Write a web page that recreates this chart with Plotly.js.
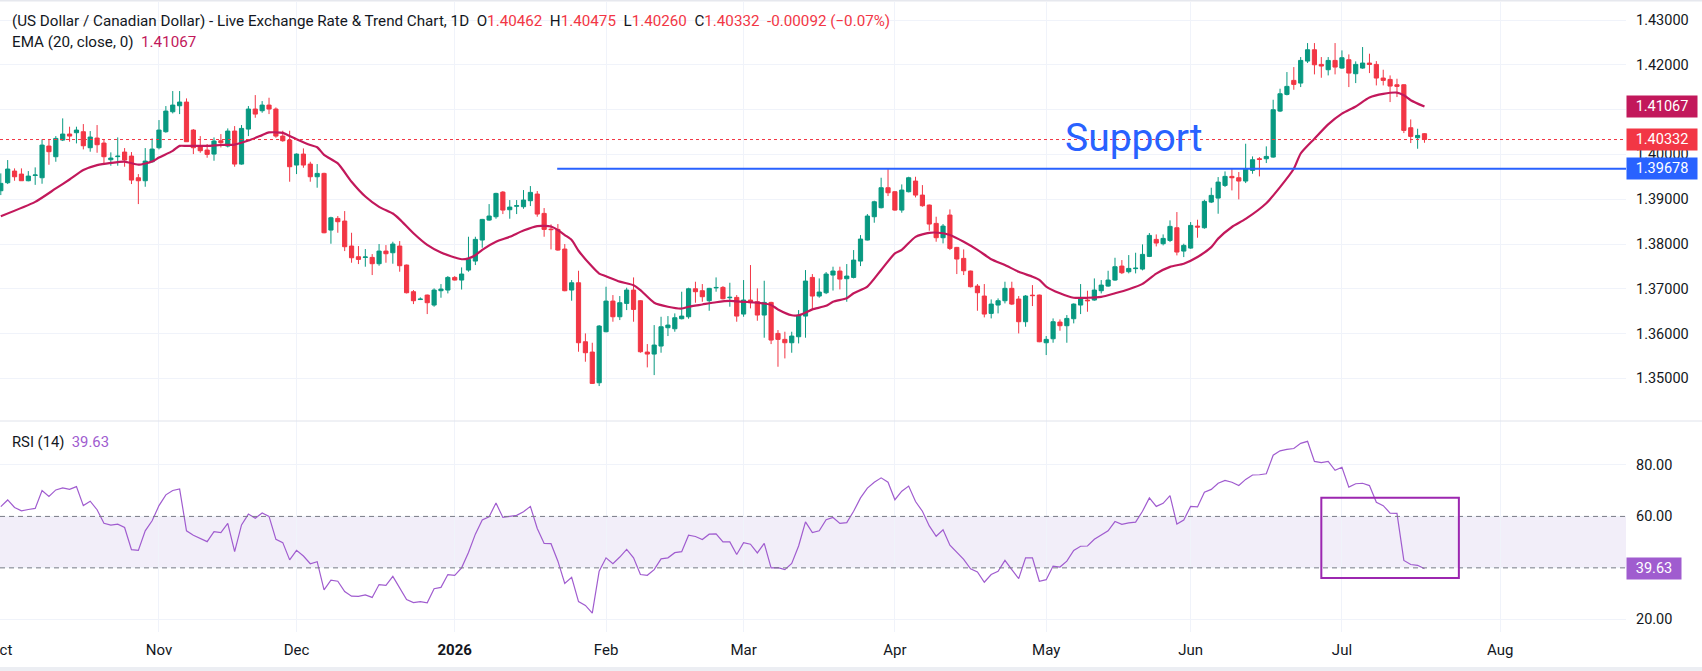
<!DOCTYPE html>
<html>
<head>
<meta charset="utf-8">
<script src="https://cdn.plot.ly/plotly-3.0.1.min.js"></script>
<style>
html,body{margin:0;padding:0;background:#ffffff;}
#chart{width:1702px;height:671px;}
</style>
</head>
<body>
<div id="chart"></div>
<script>
// ---- Data ----
const monthTickIdx = [0, 23, 43, 66, 88, 108, 130, 152, 173, 195, 218];
const monthTickText = ['Oct', 'Nov', 'Dec', '<b>2026</b>', 'Feb', 'Mar', 'Apr', 'May', 'Jun', 'Jul', 'Aug'];

const open = [
1.39189,1.39368,1.39628,1.39561,1.39412,1.39530,1.39479,1.40186,1.39948,1.40320,
1.40454,1.40484,1.40506,1.40149,1.40365,1.40253,1.39881,1.39950,1.40052,1.39963,
1.39479,1.39412,1.39836,1.40149,1.40506,1.40952,1.41086,1.41168,1.40543,1.40171,
1.40097,1.40007,1.40305,1.40186,1.40521,1.39784,1.40565,1.41012,1.40975,1.41101,
1.41012,1.40409,1.40320,1.39762,1.40007,1.39784,1.39501,1.39576,1.38311,1.38571,
1.38512,1.37954,1.37716,1.37700,1.37701,1.37560,1.37842,1.37805,1.37954,1.37530,
1.36935,1.36760,1.36860,1.36637,1.36957,1.36972,1.37254,1.37195,1.37418,1.37619,
1.38088,1.38534,1.38609,1.39159,1.38765,1.38844,1.38832,1.38966,1.39115,1.38683,
1.38331,1.38326,1.37887,1.36972,1.37135,1.35818,1.35588,1.34903,1.36042,1.36726,
1.36376,1.36674,1.36972,1.36734,1.35588,1.35543,1.35722,1.36131,1.36108,1.36332,
1.36376,1.37001,1.36957,1.36734,1.37020,1.37031,1.36800,1.36808,1.36436,1.36749,
1.36711,1.36414,1.36696,1.36004,1.35871,1.35796,1.35930,1.36391,1.37254,1.36838,
1.36912,1.37307,1.37396,1.37225,1.37254,1.37619,1.38088,1.38609,1.38810,1.39256,
1.39167,1.38757,1.39167,1.39405,1.39092,1.38869,1.38460,1.38140,1.38646,1.37924,
1.37679,1.37396,1.37061,1.36838,1.36451,1.36637,1.36734,1.37010,1.36771,1.36265,
1.36858,1.36860,1.35796,1.35885,1.36257,1.36176,1.36332,1.36637,1.36749,1.36749,
1.36957,1.37061,1.37195,1.37507,1.37381,1.37450,1.37440,1.37723,1.38103,1.38006,
1.38080,1.38363,1.37842,1.37909,1.38400,1.38363,1.38936,1.39025,1.39308,1.39509,
1.39479,1.39405,1.39643,1.39903,1.39903,1.39940,1.40967,1.41339,1.41652,1.41592,
1.42083,1.42336,1.42009,1.41890,1.42098,1.41927,1.42113,1.41801,1.41927,1.42039,
1.42009,1.41704,1.41674,1.41555,1.41555,1.40595,1.40372,1.40462];

const high = [
1.39576,1.39874,1.39688,1.39688,1.39628,1.39710,1.40335,1.40335,1.40409,1.40804,
1.40618,1.40618,1.40677,1.40521,1.40655,1.40320,1.40045,1.40379,1.40141,1.40052,
1.39561,1.40141,1.40357,1.40766,1.41079,1.41414,1.41414,1.41250,1.40565,1.40409,
1.40231,1.40379,1.40454,1.40580,1.40632,1.40655,1.41079,1.41324,1.41190,1.41265,
1.41049,1.40528,1.40528,1.40022,1.40134,1.39836,1.39784,1.39591,1.38609,1.38624,
1.38735,1.38251,1.37954,1.37887,1.37775,1.37999,1.37976,1.38051,1.38065,1.37540,
1.36972,1.36808,1.36870,1.37010,1.37106,1.37284,1.37284,1.37478,1.38162,1.38162,
1.38560,1.38891,1.39144,1.39182,1.38981,1.38981,1.39204,1.39293,1.39182,1.38802,
1.38437,1.38445,1.37999,1.37195,1.37403,1.36004,1.35796,1.36190,1.37046,1.36860,
1.36838,1.37024,1.37254,1.36749,1.35766,1.36190,1.36376,1.36391,1.36451,1.36935,
1.37024,1.37158,1.37106,1.37020,1.37254,1.37061,1.37135,1.36860,1.37195,1.37530,
1.37010,1.37180,1.36710,1.36079,1.36042,1.36042,1.36525,1.37418,1.37329,1.37232,
1.37374,1.37493,1.37493,1.37552,1.37865,1.38199,1.38668,1.38966,1.39479,1.39688,
1.39182,1.39330,1.39501,1.39501,1.39315,1.38880,1.38609,1.38445,1.38772,1.37935,
1.37879,1.37405,1.37106,1.37106,1.36763,1.36786,1.37158,1.37158,1.36838,1.36860,
1.37083,1.36870,1.35945,1.36339,1.36317,1.36414,1.36674,1.37106,1.36957,1.37232,
1.37195,1.37403,1.37693,1.37641,1.37753,1.37805,1.37991,1.38244,1.38214,1.38214,
1.38527,1.38713,1.38006,1.38490,1.38542,1.38988,1.39256,1.39494,1.39620,1.39680,
1.39606,1.40238,1.39955,1.39940,1.40179,1.41220,1.41466,1.41838,1.41949,1.42173,
1.42485,1.42485,1.42173,1.42173,1.42485,1.42321,1.42232,1.42076,1.42396,1.42247,
1.42083,1.41890,1.41763,1.41689,1.41565,1.40781,1.40573,1.40475];

const low = [
1.39092,1.39338,1.39412,1.39412,1.39400,1.39320,1.39345,1.39769,1.39836,1.40298,
1.40283,1.40246,1.40112,1.40060,1.40037,1.39777,1.39747,1.39747,1.39725,1.39338,
1.38891,1.39278,1.39821,1.40112,1.40484,1.40915,1.40900,1.40283,1.40007,1.40037,
1.39926,1.39859,1.40156,1.40156,1.39725,1.39770,1.40409,1.40818,1.40930,1.40900,
1.40372,1.40283,1.39390,1.39561,1.39702,1.39390,1.39256,1.38240,1.38006,1.38251,
1.37842,1.37582,1.37552,1.37493,1.37307,1.37515,1.37582,1.37560,1.37381,1.36897,
1.36659,1.36749,1.36436,1.36600,1.36801,1.36897,1.37185,1.36984,1.37381,1.37530,
1.37917,1.38519,1.38564,1.38668,1.38564,1.38668,1.38787,1.38847,1.38609,1.38162,
1.37879,1.37850,1.36945,1.36734,1.35595,1.35372,1.34875,1.34829,1.36030,1.36265,
1.36302,1.36525,1.36265,1.35573,1.35246,1.35074,1.35573,1.35945,1.36042,1.36317,
1.36332,1.36689,1.36711,1.36510,1.36935,1.36763,1.36600,1.36265,1.36376,1.36563,
1.36287,1.35908,1.35766,1.35260,1.35446,1.35573,1.35781,1.35908,1.36540,1.36801,
1.36882,1.36961,1.36987,1.36711,1.37232,1.37507,1.38080,1.38475,1.38795,1.39070,
1.38743,1.38698,1.39152,1.39040,1.38832,1.38296,1.38051,1.38013,1.37865,1.37329,
1.37307,1.37031,1.36510,1.36362,1.36339,1.36451,1.36674,1.36637,1.36004,1.36153,
1.36615,1.35808,1.35521,1.35796,1.36064,1.35796,1.36228,1.36436,1.36488,1.36734,
1.36897,1.37046,1.37180,1.37329,1.37344,1.37344,1.37411,1.37708,1.37946,1.37969,
1.38043,1.37746,1.37708,1.37894,1.38140,1.38341,1.38914,1.38676,1.39271,1.39196,
1.38996,1.39360,1.39568,1.39509,1.39807,1.39926,1.40945,1.41317,1.41443,1.41503,
1.42039,1.41786,1.41711,1.41763,1.41786,1.41912,1.41503,1.41592,1.41912,1.41815,
1.41540,1.41540,1.41168,1.41280,1.40476,1.40253,1.40126,1.40260];

const close = [
1.39353,1.39673,1.39501,1.39412,1.39516,1.39540,1.40208,1.40060,1.40357,1.40454,
1.40409,1.40543,1.40193,1.40387,1.40216,1.39948,1.39918,1.39960,1.39874,1.39427,
1.39412,1.39851,1.40119,1.40543,1.40967,1.41101,1.41168,1.40283,1.40149,1.40082,
1.40000,1.40298,1.40260,1.40521,1.39784,1.40580,1.41012,1.40900,1.41101,1.41012,
1.40409,1.40305,1.39725,1.40007,1.39762,1.39501,1.39576,1.38251,1.38586,1.38497,
1.37939,1.37693,1.37656,1.37710,1.37560,1.37842,1.37783,1.37999,1.37515,1.36912,
1.36734,1.36770,1.36689,1.36972,1.36994,1.37254,1.37195,1.37329,1.37656,1.38103,
1.38549,1.38624,1.39129,1.38757,1.38824,1.38854,1.38981,1.39152,1.38668,1.38326,
1.38321,1.37865,1.36957,1.37135,1.35796,1.35573,1.34888,1.36168,1.36726,1.36376,
1.36689,1.36972,1.36540,1.35595,1.35543,1.35744,1.36153,1.36190,1.36354,1.36391,
1.37001,1.36935,1.36823,1.37010,1.37030,1.36778,1.36810,1.36391,1.36749,1.36689,
1.36414,1.36696,1.35856,1.35871,1.35796,1.35945,1.36414,1.37173,1.36838,1.36927,
1.37329,1.37396,1.37217,1.37284,1.37641,1.38110,1.38624,1.38943,1.39256,1.39144,
1.38757,1.39204,1.39479,1.39092,1.38854,1.38445,1.38140,1.38400,1.37902,1.37664,
1.37403,1.37046,1.36912,1.36436,1.36659,1.36734,1.37010,1.36659,1.36265,1.36838,
1.36848,1.35818,1.35871,1.36265,1.36176,1.36339,1.36659,1.36786,1.36734,1.36972,
1.37083,1.37195,1.37493,1.37359,1.37455,1.37460,1.37768,1.38192,1.38021,1.38125,
1.38393,1.37820,1.37969,1.38415,1.38378,1.38951,1.39085,1.39382,1.39509,1.39479,
1.39405,1.39680,1.39881,1.39888,1.39955,1.40997,1.41354,1.41518,1.41563,1.42098,
1.42336,1.42001,1.41972,1.42098,1.41949,1.42158,1.41815,1.42009,1.42039,1.42009,
1.41704,1.41652,1.41525,1.41518,1.40536,1.40402,1.40424,1.40332];

// EMA(20) read at sampled bars
const emaIdx = [0,5,8,10,12,14,16,18,20,22,23,25,26,27,30,32,34,36,38,39,41,42,43,45,46,47,49,51,53,55,57,58,60,62,64,66,67,68,69,70,72,74,76,78,80,81,82,83,84,86,87,88,90,92,93,95,97,99,100,102,104,106,108,110,112,113,115,116,117,118,120,121,123,124,126,128,130,131,133,135,137,138,140,142,144,146,148,150,151,152,154,156,158,160,162,164,166,168,170,172,174,176,177,179,181,184,186,188,189,191,193,195,197,199,201,203,204,205,207];
const emaVal = [1.3862,1.3894,1.3924,1.3944,1.3965,1.3976,1.3981,1.3984,1.3977,1.3984,1.3993,1.4008,1.4019,1.4019,1.4019,1.4021,1.4022,1.4031,1.4043,1.4049,1.4048,1.4041,1.4034,1.4021,1.4016,1.3999,1.3980,1.3939,1.3906,1.3883,1.3868,1.3855,1.3824,1.3798,1.3781,1.3770,1.3766,1.3768,1.3775,1.3787,1.3805,1.3816,1.3830,1.3840,1.3839,1.3831,1.3820,1.3809,1.3785,1.3749,1.3734,1.3728,1.3716,1.3708,1.3697,1.3669,1.3660,1.3656,1.3660,1.3665,1.3670,1.3673,1.3671,1.3669,1.3664,1.3654,1.3641,1.3641,1.3647,1.3654,1.3662,1.3671,1.3679,1.3690,1.3705,1.3742,1.3779,1.3787,1.3816,1.3825,1.3824,1.3820,1.3805,1.3787,1.3766,1.3753,1.3738,1.3727,1.3720,1.3705,1.3690,1.3680,1.3680,1.3682,1.3690,1.3699,1.3711,1.3734,1.3749,1.3756,1.3771,1.3793,1.3812,1.3838,1.3856,1.3891,1.3927,1.3968,1.4002,1.4035,1.4067,1.4091,1.4107,1.4127,1.4135,1.4138,1.4132,1.4121,1.41067];

// RSI(14) per bar
const rsi = [
63.8,66.4,63.5,62.2,62.7,63.1,70.1,67.8,70.3,71.1,
70.5,71.6,64.2,65.9,62.6,57.3,56.6,57.0,55.7,47.1,
46.8,54.4,58.3,64.2,68.4,70.1,70.7,54.4,52.7,51.4,
50.2,54.1,53.7,57.3,46.3,56.7,60.9,59.3,61.3,60.0,
51.1,49.8,43.1,46.8,44.6,41.6,42.4,31.4,35.2,34.8,
30.8,29.0,28.9,29.5,28.5,33.5,33.2,36.7,32.4,27.7,
26.5,26.9,26.4,31.9,32.4,37.4,37.1,40.0,46.0,53.1,
58.6,59.9,65.2,59.6,60.0,60.4,61.8,63.9,55.3,49.5,
49.4,42.6,33.9,36.3,26.9,25.4,22.4,38.7,43.9,41.6,
44.2,47.2,43.9,37.4,37.1,39.3,43.5,43.9,45.9,46.3,
52.7,52.2,51.0,53.1,53.2,50.1,50.1,45.2,49.8,49.2,
45.8,49.5,40.0,40.1,39.3,41.7,48.5,57.9,53.7,54.4,
58.7,59.6,57.3,57.6,62.0,67.2,71.0,73.3,75.0,73.3,
66.5,69.8,71.8,65.8,62.0,56.3,52.3,54.8,48.8,45.9,
43.3,39.6,38.4,34.4,37.4,38.7,42.9,39.3,35.8,43.9,
43.9,34.8,35.4,40.7,40.3,42.6,46.8,48.4,48.5,51.1,
52.7,54.4,58.0,56.9,57.5,57.8,62.0,67.2,63.9,65.1,
68.1,57.0,58.6,63.9,63.7,69.4,70.5,72.9,74.0,73.3,
72.0,74.4,76.1,76.2,76.6,83.8,85.5,86.1,86.4,88.4,
89.2,81.4,80.9,81.4,77.9,79.1,71.4,72.7,72.9,72.0,
65.5,64.2,61.3,61.2,42.9,41.3,41.0,39.63];

const priceTicks = [1.35, 1.36, 1.37, 1.38, 1.39, 1.40, 1.41, 1.42, 1.43];
// 1.41000 sits fully behind the EMA price box in the reference, so its label is left blank
const priceTickText = ['1.35000', '1.36000', '1.37000', '1.38000', '1.39000', '1.40000', '', '1.42000', '1.43000'];
const rsiTicks = [20, 40, 60, 80];
const rsiTickText = ['20.00', '40.00', '60.00', '80.00'];

const lastClose = 1.40332;
const lastEma = 1.41067;
const supportLevel = 1.39678;
const supportStartIdx = 80.9;
const lastRsi = 39.63;
const rsiBox = {x0: 192, x1: 212, y0: 36.1, y1: 67.25};

// ---- Styling ----
const GREEN = '#089981', RED = '#f23645', EMA_C = '#c2185b', BLUE = '#2962ff', RSI_C = '#a05ccf', TXT = '#131722', GRID = '#f0f3fa';
const FONT = 'Roboto, "Liberation Sans", Arial, sans-serif';

const idx = open.map((_, i) => i);
const xRange = [-0.116, 236.3];

// plot area: y pixels 2..632 (height 630), x 0..1626
const PH = 630, PB = 632;
const py = p => (PB - p) / PH; // pixel -> paper y
const PW = 1626;
const px = p => p / PW;       // pixel -> paper x

const traces = [
  {
    type: 'candlestick', x: idx, open: open, high: high, low: low, close: close,
    xaxis: 'x', yaxis: 'y',
    increasing: {line: {color: GREEN, width: 1}, fillcolor: GREEN},
    decreasing: {line: {color: RED, width: 1}, fillcolor: RED},
    whiskerwidth: 0, hoverinfo: 'skip', showlegend: false
  },
  {
    type: 'scatter', mode: 'lines', x: emaIdx, y: emaVal, xaxis: 'x', yaxis: 'y',
    line: {color: EMA_C, width: 2.2, shape: 'spline', smoothing: 0.6}, hoverinfo: 'skip', showlegend: false
  },
  {
    type: 'scatter', mode: 'lines', x: idx, y: rsi, xaxis: 'x', yaxis: 'y2',
    line: {color: RSI_C, width: 1.2}, hoverinfo: 'skip', showlegend: false
  }
];

const shapes = [
  // RSI band
  {type: 'rect', xref: 'paper', yref: 'y2', x0: 0, x1: 1, y0: 40, y1: 60, fillcolor: 'rgba(126,87,194,0.10)', line: {width: 0}, layer: 'below'},
  {type: 'line', xref: 'paper', yref: 'y2', x0: 0, x1: 1, y0: 60, y1: 60, line: {color: '#787b86', width: 1, dash: '5px,4px'}},
  {type: 'line', xref: 'paper', yref: 'y2', x0: 0, x1: 1, y0: 40, y1: 40, line: {color: '#787b86', width: 1, dash: '5px,4px'}},
  // current price dotted line
  {type: 'line', xref: 'paper', yref: 'y', x0: 0, x1: 1, y0: lastClose, y1: lastClose, line: {color: RED, width: 1, dash: 'dot'}},
  // support line
  {type: 'line', xref: 'x', yref: 'y', x0: supportStartIdx, x1: xRange[1], y0: supportLevel, y1: supportLevel, line: {color: BLUE, width: 2}},
  // RSI highlight box
  {type: 'rect', xref: 'x', yref: 'y2', x0: rsiBox.x0, x1: rsiBox.x1, y0: rsiBox.y0, y1: rsiBox.y1, line: {color: '#9c27b0', width: 2}, fillcolor: 'rgba(0,0,0,0)'},
  // pane separator
  {type: 'line', xref: 'paper', yref: 'paper', x0: 0, x1: px(1702), y0: py(421), y1: py(421), line: {color: '#e0e3eb', width: 1}},
  // outer frame strips
  {type: 'rect', xref: 'paper', yref: 'paper', x0: 0, x1: px(1702), y0: py(667), y1: py(672), fillcolor: '#eceef3', line: {width: 0}},
  {type: 'rect', xref: 'paper', yref: 'paper', x0: 0, x1: px(1702), y0: py(0), y1: py(1.5), fillcolor: '#e6e8ee', line: {width: 0}}
];

const sp = '\u00a0';
const red = s => '<span style="color:' + RED + '">' + s + '</span>';
const header1 = '(US Dollar / Canadian Dollar) - Live Exchange Rate &amp; Trend Chart, 1D' + sp + sp +
  'O' + red('1.40462') + sp + sp + 'H' + red('1.40475') + sp + sp + 'L' + red('1.40260') + sp + sp +
  'C' + red('1.40332') + sp + sp + red('-0.00092 (\u22120.07%)');
const header2 = 'EMA (20, close, 0)' + sp + sp + '<span style="color:' + EMA_C + '">' + lastEma.toFixed(5) + '</span>';
const rsiTitle = 'RSI (14)' + sp + sp + '<span style="color:' + RSI_C + '">' + lastRsi.toFixed(2) + '</span>';

function axisBox(val, yref, bg, w, txt) {
  return {xref: 'paper', yref: yref, x: 1, y: val, xanchor: 'left', yanchor: 'middle',
    text: txt, showarrow: false, bgcolor: bg, width: w, height: 21, borderpad: 0, align: 'center',
    font: {family: FONT, size: 14.5, color: '#ffffff'}};
}

const annotations = [
  {xref: 'paper', yref: 'paper', x: px(10), y: py(21), xanchor: 'left', yanchor: 'middle', showarrow: false,
   text: header1, font: {family: FONT, size: 15.2, color: TXT}},
  {xref: 'paper', yref: 'paper', x: px(10), y: py(42), xanchor: 'left', yanchor: 'middle', showarrow: false,
   text: header2, font: {family: FONT, size: 15.2, color: TXT}},
  {xref: 'paper', yref: 'paper', x: px(10), y: py(442), xanchor: 'left', yanchor: 'middle', showarrow: false,
   text: rsiTitle, font: {family: FONT, size: 14.8, color: TXT}},
  {xref: 'x', yref: 'y', x: 154.4, y: 1.40366, xanchor: 'left', yanchor: 'middle', showarrow: false,
   text: 'Support', font: {family: FONT, size: 39, color: BLUE}},
  axisBox(lastEma, 'y', EMA_C, 70, lastEma.toFixed(5)),
  axisBox(lastClose, 'y', RED, 70, lastClose.toFixed(5)),
  axisBox(supportLevel, 'y', BLUE, 70, supportLevel.toFixed(5)),
  axisBox(lastRsi, 'y2', RSI_C, 54, lastRsi.toFixed(2))
];

const layout = {
  width: 1702, height: 671,
  margin: {l: 0, r: 76, t: 2, b: 39},
  paper_bgcolor: '#ffffff', plot_bgcolor: '#ffffff',
  showlegend: false, hovermode: false, dragmode: false,
  boxgap: 0.22, boxgroupgap: 0.22,
  font: {family: FONT, color: TXT, size: 14},
  xaxis: {
    range: xRange, anchor: 'y2', tickmode: 'array', tickvals: monthTickIdx, ticktext: monthTickText,
    showgrid: true, gridcolor: GRID, gridwidth: 1, zeroline: false, showline: false, ticks: '',
    ticklabelstandoff: 7, ticklabeloverflow: 'allow',
    rangeslider: {visible: false}, fixedrange: true, tickfont: {family: FONT, size: 15, color: TXT}
  },
  yaxis: {
    domain: [py(421), 1], range: [1.340491, 1.434018], side: 'right', anchor: 'x',
    tickmode: 'array', tickvals: priceTicks, ticktext: priceTickText,
    showgrid: true, gridcolor: GRID, zeroline: false, showline: false, ticks: '',
    ticklabelstandoff: 9, fixedrange: true, tickfont: {family: FONT, size: 14.5, color: TXT}
  },
  yaxis2: {
    domain: [0, py(421)], range: [15.06, 97.1], side: 'right', anchor: 'x',
    tickmode: 'array', tickvals: rsiTicks, ticktext: rsiTickText,
    showgrid: true, gridcolor: GRID, zeroline: false, showline: false, ticks: '',
    ticklabelstandoff: 9, fixedrange: true, tickfont: {family: FONT, size: 14.5, color: TXT}
  },
  shapes: shapes,
  annotations: annotations
};

Plotly.newPlot('chart', traces, layout, {staticPlot: true, displayModeBar: false});
</script>
</body>
</html>
